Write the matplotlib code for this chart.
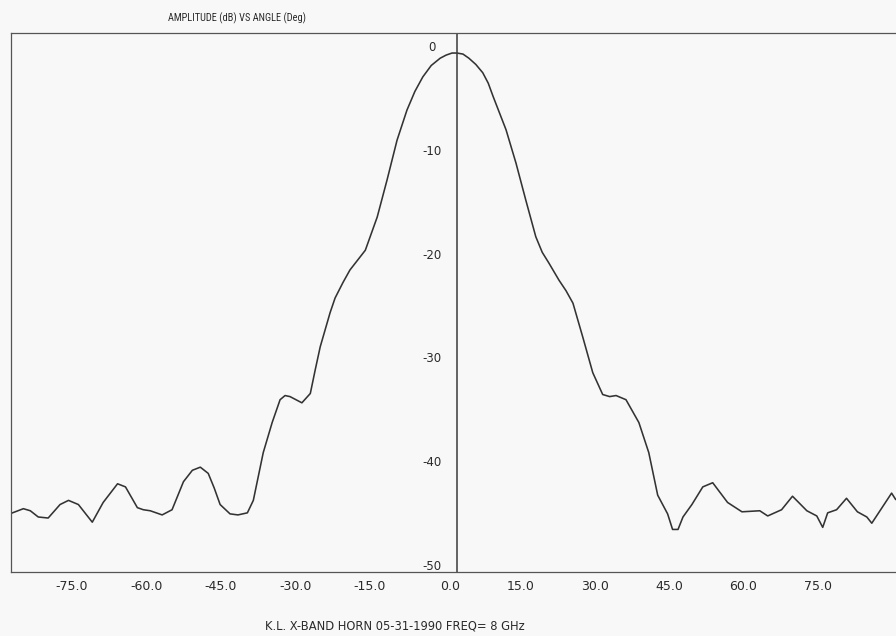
"""
Antenna pattern plot: X-band horn, amplitude (dB) vs angle (deg).
Recreates an old plotter-style printout.
"""

import matplotlib
matplotlib.use("Agg")
import matplotlib.pyplot as plt
import matplotlib.transforms as mtransforms
from matplotlib import font_manager

# ── data ────────────────────────────────────────────────────────
angle_deg = [
    -89.7, -87.5, -86.1, -84.5, -82.5, -80.1, -78.4, -76.4, -73.6, -71.4,
    -68.5, -66.9, -64.5, -63.3, -61.9, -59.5, -57.5, -55.2, -53.4, -51.8,
    -50.2, -49.0, -47.8, -45.8, -44.2, -42.3, -41.1, -39.1, -37.3, -35.7,
    -34.7, -33.7, -31.3, -29.6, -28.6, -27.6, -25.6, -24.6, -23.0, -21.6,
    -18.5, -16.1, -14.1, -12.1, -10.1, -8.5, -6.9, -5.2, -3.4, -2.2,
    -1.0, 0.0, 1.2, 2.4, 3.8, 5.2, 6.3, 7.3, 8.6, 9.9,
    11.9, 13.9, 15.9, 17.2, 18.5, 20.6, 22.0, 23.4, 25.4, 27.4,
    29.4, 30.8, 32.1, 34.1, 36.7, 38.7, 40.5, 42.5, 43.5, 44.6,
    45.6, 47.4, 49.6, 51.6, 54.6, 57.5, 61.1, 62.7, 65.5, 67.7,
    70.6, 72.6, 73.8, 74.8, 76.6, 78.6, 80.8, 82.7, 83.7, 87.7,
    88.5,
]
amplitude_db = [
    -44.3, -43.9, -44.1, -44.7, -44.8, -43.5, -43.1, -43.5, -45.2, -43.3,
    -41.5, -41.8, -43.8, -44.0, -44.1, -44.5, -44.0, -41.3, -40.2, -39.9,
    -40.5, -41.9, -43.5, -44.4, -44.5, -44.3, -43.1, -38.5, -35.6, -33.4,
    -33.0, -33.1, -33.7, -32.8, -30.5, -28.3, -25.0, -23.6, -22.1, -20.9,
    -19.0, -15.8, -12.2, -8.4, -5.5, -3.7, -2.3, -1.2, -0.5, -0.2,
    0.0, 0.0, -0.1, -0.5, -1.1, -1.9, -2.9, -4.2, -5.8, -7.4,
    -10.6, -14.2, -17.7, -19.2, -20.2, -21.9, -22.9, -24.1, -27.4, -30.8,
    -32.9, -33.1, -33.0, -33.4, -35.6, -38.5, -42.6, -44.4, -45.9, -45.9,
    -44.7, -43.5, -41.8, -41.4, -43.3, -44.2, -44.1, -44.6, -44.0, -42.7,
    -44.1, -44.6, -45.7, -44.3, -44.0, -42.9, -44.2, -44.7, -45.3, -42.4,
    -43.0,
]
x_ticks = [-75, -60, -45, -30, -15, 0, 15, 30, 45, 60, 75]
y_ticks = [0, -10, -20, -30, -40, -50]

title = "AMPLITUDE (dB) VS ANGLE (Deg)"
caption = "K.L. X-BAND HORN 05-31-1990 FREQ= 8 GHz"

BG = "#f8f8f8"
INK = "#2a2a2a"


def pick_narrow_font():
    names = {f.name for f in font_manager.fontManager.ttflist}
    for cand in ("Liberation Sans Narrow", "Roboto Condensed", "Open Sans Condensed"):
        if cand in names:
            return cand
    return "DejaVu Sans"


def main():
    narrow = pick_narrow_font()

    fig = plt.figure(figsize=(8.96, 6.36), dpi=100, facecolor=BG)
    # axes box runs off the right edge of the page, as on the scan
    ax = fig.add_axes([11 / 896, 64 / 636, 892 / 896, 539 / 636], facecolor=BG)
    ax.set_xlim(-90, 90)
    ax.set_ylim(-50, 1.93)

    ax.plot(angle_deg, amplitude_db, color="#333333", linewidth=1.15,
            solid_joinstyle="round")
    ax.axvline(0, color="#3a3a3a", linewidth=1.1)

    for side in ("left", "top", "bottom", "right"):
        ax.spines[side].set_color("#555555")
        ax.spines[side].set_linewidth(0.9)

    # x labels sit just under the frame, right-aligned on the tick position
    ax.set_xticks(x_ticks)
    ax.set_xticklabels([f"{v:.1f}" for v in x_ticks], fontsize=9, color=INK)
    ax.tick_params(axis="x", length=0, pad=6)
    shift = mtransforms.ScaledTranslation(0.03, 0, fig.dpi_scale_trans)
    for lbl in ax.get_xticklabels():
        lbl.set_horizontalalignment("right")
        lbl.set_transform(lbl.get_transform() + shift)

    # y labels are written along the centre axis
    ax.set_yticks([])
    ylab_off = mtransforms.offset_copy(ax.transData, fig=fig, x=-25, y=2, units="dots")
    for v in y_ticks:
        ax.text(0, v, f"{v}", transform=ylab_off, ha="center", va="baseline",
                fontsize=8.5, color=INK)

    fig.text(237 / 896, 1 - 18 / 636, title, ha="center", va="center",
             fontsize=7.5, family=narrow, color=INK)
    fig.text(265 / 896, 1 - 626 / 636, caption, ha="left", va="center",
             fontsize=8.3, color=INK)

    fig.savefig("out.png", dpi=100, facecolor=BG)


if __name__ == "__main__":
    main()
